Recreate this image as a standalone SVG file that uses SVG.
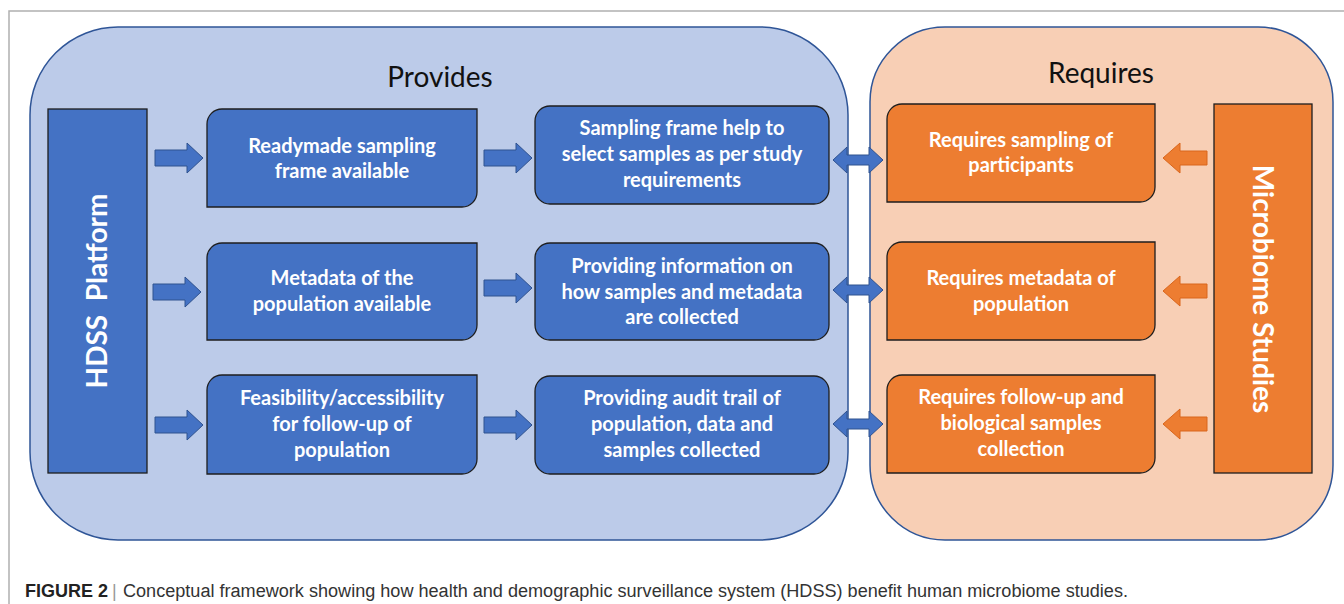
<svg xmlns="http://www.w3.org/2000/svg" xmlns:xlink="http://www.w3.org/1999/xlink" width="1344" height="604" viewBox="0 0 1344 604">
<style>
.bt{font-family:Lato,"Open Sans",sans-serif;font-weight:bold;font-size:20px;fill:#fff;text-anchor:middle}
.ttl{font-family:Lato,"Open Sans",sans-serif;font-size:28px;fill:#111;text-anchor:middle}
.vt{font-family:Lato,"Open Sans",sans-serif;font-weight:bold;font-size:28px;fill:#fff;text-anchor:middle}
.bbox{fill:#4472C4;stroke:#1e1e1e;stroke-width:1.3}
.obox{fill:#ED7D31;stroke:#1e1e1e;stroke-width:1.3}
.barr{fill:#4472C4;stroke:#2F528F;stroke-width:1}
.oarr{fill:#ED7D31;stroke:#D9661C;stroke-width:1}
.cap{font-family:"Liberation Sans",Arial,sans-serif;font-size:18px;fill:#333}
</style>
<defs>
<path id="arrR" d="M0,-8 H32 V-15 L48,0 L32,15 V8 H0 Z"/>
<path id="arrD" d="M0,0 L14,-13 V-5 H36 V-13 L50,0 L36,13 V5 H14 V13 Z"/>
<path id="arrL" d="M0,0 L17,-15 V-7 H44 V7 H17 V15 Z"/>
</defs>
<rect width="1344" height="604" fill="#fff"/>
<path d="M9,604 V11 H1344" fill="none" stroke="#b0b0b0" stroke-width="1.5"/>

<g id="provides-container">
<rect x="30" y="27" width="818" height="513" rx="88" ry="88" fill="#BCCBE9" stroke="#2F5597" stroke-width="1.5"/>
<text class="ttl" x="440" y="87">Provides</text>
</g>
<g id="requires-container">
<rect x="870" y="27" width="463" height="513" rx="75" ry="75" fill="#F8CFB5" stroke="#2F5597" stroke-width="1.5"/>
<text class="ttl" x="1101" y="83">Requires</text>
</g>

<g id="hdss">
<rect class="bbox" x="48" y="109" width="99" height="364"/>
<text class="vt" transform="translate(107,291) rotate(-90)">HDSS&#160; Platform</text>
</g>
<g id="microbiome">
<rect class="obox" x="1214" y="104" width="98" height="369"/>
<text class="vt" transform="translate(1253,289) rotate(90)">Microbiome Studies</text>
</g>

<g id="readymade">
<path class="bbox" d="M222,109 H477 V192 A15,15 0 0 1 462,207 H207 V124 A15,15 0 0 1 222,109 Z"/>
<text class="bt" x="342" y="153">Readymade sampling</text>
<text class="bt" x="342" y="178">frame available</text>
</g>
<g id="metadata">
<path class="bbox" d="M222,243 H477 V325 A15,15 0 0 1 462,340 H207 V258 A15,15 0 0 1 222,243 Z"/>
<text class="bt" x="342" y="285">Metadata of the</text>
<text class="bt" x="342" y="311">population available</text>
</g>
<g id="feasibility">
<path class="bbox" d="M222,375 H477 V459 A15,15 0 0 1 462,474 H207 V390 A15,15 0 0 1 222,375 Z"/>
<text class="bt" x="342" y="405">Feasibility/accessibility</text>
<text class="bt" x="342" y="431">for follow-up of</text>
<text class="bt" x="342" y="457">population</text>
</g>

<g id="sampling-frame">
<rect class="bbox" x="535" y="106" width="294" height="98" rx="15" ry="15"/>
<text class="bt" x="682" y="135">Sampling frame help to</text>
<text class="bt" x="682" y="161">select samples as per study</text>
<text class="bt" x="682" y="187">requirements</text>
</g>
<g id="providing-info">
<rect class="bbox" x="535" y="243" width="294" height="97" rx="15" ry="15"/>
<text class="bt" x="682" y="273">Providing information on</text>
<text class="bt" x="682" y="299">how samples and metadata</text>
<text class="bt" x="682" y="324">are collected</text>
</g>
<g id="audit-trail">
<rect class="bbox" x="535" y="376" width="294" height="98" rx="15" ry="15"/>
<text class="bt" x="682" y="405">Providing audit trail of</text>
<text class="bt" x="682" y="431">population, data and</text>
<text class="bt" x="682" y="457">samples collected</text>
</g>

<g id="req-sampling">
<path class="obox" d="M902,104 H1155 V187 A15,15 0 0 1 1140,202 H887 V119 A15,15 0 0 1 902,104 Z"/>
<text class="bt" x="1021" y="147">Requires sampling of</text>
<text class="bt" x="1021" y="172">participants</text>
</g>
<g id="req-metadata">
<path class="obox" d="M902,242 H1155 V325 A15,15 0 0 1 1140,340 H887 V257 A15,15 0 0 1 902,242 Z"/>
<text class="bt" x="1021" y="285">Requires metadata of</text>
<text class="bt" x="1021" y="311">population</text>
</g>
<g id="req-followup">
<path class="obox" d="M902,375 H1155 V458 A15,15 0 0 1 1140,473 H887 V390 A15,15 0 0 1 902,375 Z"/>
<text class="bt" x="1021" y="404">Requires follow-up and</text>
<text class="bt" x="1021" y="430">biological samples</text>
<text class="bt" x="1021" y="456">collection</text>
</g>

<g id="connectors">
<use class="barr" href="#arrR" xlink:href="#arrR" x="155" y="158"/>
<use class="barr" href="#arrR" xlink:href="#arrR" x="153" y="292"/>
<use class="barr" href="#arrR" xlink:href="#arrR" x="155" y="425"/>
<use class="barr" href="#arrR" xlink:href="#arrR" x="484" y="158"/>
<use class="barr" href="#arrR" xlink:href="#arrR" x="484" y="288"/>
<use class="barr" href="#arrR" xlink:href="#arrR" x="484" y="425"/>
<use class="barr" href="#arrD" xlink:href="#arrD" x="833" y="160"/>
<use class="barr" href="#arrD" xlink:href="#arrD" x="833" y="290"/>
<use class="barr" href="#arrD" xlink:href="#arrD" x="833" y="424"/>
<use class="oarr" href="#arrL" xlink:href="#arrL" x="1163" y="158"/>
<use class="oarr" href="#arrL" xlink:href="#arrL" x="1163" y="291"/>
<use class="oarr" href="#arrL" xlink:href="#arrL" x="1163" y="424"/>
</g>

<g id="caption">
<text class="cap" x="25" y="597" style="font-weight:bold;fill:#222">FIGURE 2</text>
<text class="cap" x="112" y="597" style="fill:#999;font-weight:300">|</text>
<text class="cap" x="123" y="597" textLength="1005" lengthAdjust="spacingAndGlyphs">Conceptual framework showing how health and demographic surveillance system (HDSS) benefit human microbiome studies.</text>
</g>
</svg>
